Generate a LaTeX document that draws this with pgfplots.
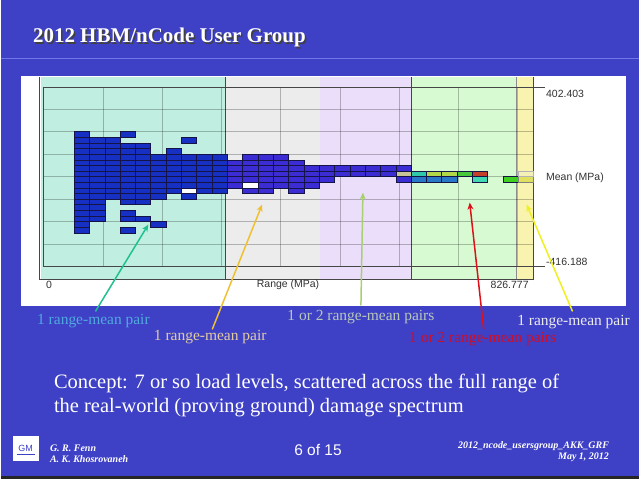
\documentclass[border=0pt]{standalone}
\usepackage{fontspec}
\setmainfont{Liberation Serif}
\newfontfamily\arial{Liberation Sans}
\usepackage{pgfplots}
\usepackage{pgfplotstable}
\pgfplotsset{compat=1.18}
\usetikzlibrary{arrows.meta}

\definecolor{slide}{RGB}{62,64,198}
\definecolor{titleline}{RGB}{112,118,232}
\definecolor{bteal}{RGB}{192,238,224}
\definecolor{bgray}{RGB}{236,236,236}
\definecolor{bpurp}{RGB}{234,222,250}
\definecolor{bgreen}{RGB}{216,250,210}
\definecolor{byell}{RGB}{248,244,176}
\definecolor{framec}{RGB}{70,70,70}
\definecolor{labc}{RGB}{50,50,50}
\definecolor{edge}{RGB}{20,20,70}
\definecolor{cb}{RGB}{22,48,196}
\definecolor{cv}{RGB}{60,44,212}
\definecolor{ct}{RGB}{200,196,150}
\definecolor{cq}{RGB}{48,200,168}
\definecolor{cs}{RGB}{40,120,200}
\definecolor{cy}{RGB}{176,216,72}
\definecolor{cg}{RGB}{72,200,56}
\definecolor{cr}{RGB}{196,64,40}
\definecolor{ca}{RGB}{64,216,176}
\definecolor{cl}{RGB}{64,208,32}
\definecolor{ck}{RGB}{224,224,96}
\definecolor{cp}{RGB}{244,240,184}
\definecolor{tteal}{RGB}{80,170,222}
\definecolor{ttan}{RGB}{226,204,160}
\definecolor{tgg}{RGB}{184,200,184}
\definecolor{tred}{RGB}{200,16,46}
\definecolor{ateal}{RGB}{32,192,144}
\definecolor{aorange}{RGB}{240,192,48}
\definecolor{agreen}{RGB}{168,208,112}
\definecolor{ared}{RGB}{224,16,26}
\definecolor{ayell}{RGB}{240,240,32}

\pgfdeclareplotmark{cell}{%
  \pgfpathrectangle{\pgfqpoint{-7.672pt}{-2.8125pt}}{\pgfqpoint{15.344pt}{5.625pt}}%
  \pgfusepathqfillstroke}

% range bin i (0..31), mean bin j (0..31), colour class c
\pgfplotstableread[row sep=\\]{
i j c\\
2 6 b\\2 7 b\\2 8 b\\2 9 b\\2 10 b\\2 11 b\\2 12 b\\2 13 b\\2 14 b\\2 15 b\\2 16 b\\2 17 b\\2 18 b\\2 19 b\\2 20 b\\2 21 b\\2 22 b\\2 23 b\\
3 8 b\\3 9 b\\3 10 b\\3 11 b\\3 12 b\\3 13 b\\3 14 b\\3 15 b\\3 16 b\\3 17 b\\3 18 b\\3 19 b\\3 20 b\\3 21 b\\3 22 b\\
4 12 b\\4 13 b\\4 14 b\\4 15 b\\4 16 b\\4 17 b\\4 18 b\\4 19 b\\4 20 b\\4 21 b\\4 22 b\\
5 6 b\\5 8 b\\5 9 b\\5 11 b\\5 12 b\\5 13 b\\5 14 b\\5 15 b\\5 16 b\\5 17 b\\5 18 b\\5 19 b\\5 20 b\\5 21 b\\5 23 b\\
6 8 b\\6 11 b\\6 12 b\\6 13 b\\6 14 b\\6 15 b\\6 16 b\\6 17 b\\6 18 b\\6 19 b\\6 20 b\\6 21 b\\
7 7 b\\7 12 b\\7 13 b\\7 14 b\\7 15 b\\7 16 b\\7 17 b\\7 18 b\\7 19 b\\
8 13 b\\8 14 b\\8 15 b\\8 16 b\\8 17 b\\8 18 b\\8 19 b\\8 20 b\\
9 12 b\\9 13 w\\9 14 b\\9 15 b\\9 16 b\\9 17 b\\9 18 b\\9 19 b\\9 22 b\\
10 13 b\\10 14 b\\10 15 b\\10 16 b\\10 17 b\\10 18 b\\10 19 b\\
11 13 b\\11 14 b\\11 15 b\\11 16 b\\11 17 b\\11 18 b\\11 19 b\\
12 14 v\\12 15 v\\12 16 v\\12 17 v\\12 18 v\\
13 13 v\\13 14 w\\13 15 v\\13 16 v\\13 17 v\\13 18 v\\13 19 v\\
14 13 v\\14 14 v\\14 15 v\\14 16 v\\14 17 v\\14 18 v\\14 19 v\\
15 14 v\\15 15 v\\15 16 v\\15 17 v\\15 18 v\\15 19 v\\
16 13 v\\16 14 v\\16 15 v\\16 16 v\\16 17 v\\16 18 v\\
17 14 v\\17 15 v\\17 16 v\\17 17 v\\
18 15 v\\18 16 v\\18 17 v\\
19 16 v\\19 17 v\\20 16 v\\20 17 v\\21 16 v\\21 17 v\\22 16 v\\22 17 v\\
23 15 v\\23 16 t\\23 17 v\\
24 15 s\\24 16 q\\
25 15 s\\25 16 y\\
26 15 s\\26 16 y\\
27 16 g\\
28 15 a\\28 16 r\\
30 15 l\\
31 15 k\\31 16 p\\
}\cells

\newcommand{\fs}[1]{\fontsize{#1}{#1}\selectfont}

\begin{document}
\begin{tikzpicture}[x=1pt,y=1pt]
% slide
\fill[slide] (0,0) rectangle (640,480);
\fill[black!85] (0,0) rectangle (640,3);
\draw[titleline, line width=1.2pt] (0,421) -- (640,421);
\node[anchor=base west, text=black!75, font=\bfseries\fs{21}] at (30.5,435.5) {2012 HBM/nCode User Group};
\node[anchor=base west, text=white, font=\bfseries\fs{21}] at (29,437) {2012 HBM/nCode User Group};
% panel
\fill[white] (20,173) rectangle (627,404);
\fill[bteal] (40,200) rectangle (225,403);
\fill[bgray] (225,200) rectangle (320,403);
\fill[bpurp] (320,200) rectangle (411,403);
\fill[bgreen] (411,200) rectangle (517,403);
\fill[byell] (517,200) rectangle (534,403);
\draw[framec, line width=0.6pt] (225,200) -- (225,403);
\draw[framec, line width=0.6pt] (411,200) -- (411,403);
\draw[black!45, line width=0.5pt] (517,200) -- (517,403);
\draw[framec, line width=0.6pt] (39,403) -- (39,200) -- (534,200) -- (534,403);
\draw[framec, line width=0.6pt] (534,393) -- (545,393);
\draw[framec, line width=0.6pt] (534,213) -- (545,213);

\begin{axis}[at={(43pt,213pt)}, anchor=south west,
  width=491pt, height=180pt, scale only axis,
  xmin=0, xmax=826.777, ymin=-416.188, ymax=402.403,
  xtick={0,100,...,800},
  ytick={-416.188,-313.864,-211.540,-109.216,-6.892,95.432,197.756,300.080,402.403},
  xticklabels={}, yticklabels={}, major tick length=0pt,
  grid=major, grid style={line width=0.5pt, draw=black, opacity=0.25},
  axis line style={draw=framec, line width=0.6pt},
  clip=false]
\addplot[scatter, only marks, point meta=explicit symbolic,
  mark options={line width=0.5pt},
  scatter/classes={
    b={mark=cell,draw=edge,fill=cb},
    v={mark=cell,draw=edge,fill=cv},
    w={mark=cell,draw=edge,fill=white},
    t={mark=cell,draw=edge,fill=ct},
    q={mark=cell,draw=edge,fill=cq},
    s={mark=cell,draw=edge,fill=cs},
    y={mark=cell,draw=edge,fill=cy},
    g={mark=cell,draw=edge,fill=cg},
    r={mark=cell,draw=edge,fill=cr},
    a={mark=cell,draw=edge,fill=ca},
    l={mark=cell,draw=edge,fill=cl},
    k={mark=cell,draw=black!50,fill=ck},
    p={mark=cell,draw=black!30,fill=cp}}]
  table[x expr={(\thisrow{i}+0.5)*25.8368}, y expr={-416.188+(\thisrow{j}+0.5)*25.5810}, meta=c] {\cells};
\end{axis}

% axis texts
\node[anchor=west, text=labc, font=\arial\fs{10.5}] at (543,386) {402.403};
\node[anchor=west, text=labc, font=\arial\fs{10.5}] at (543,302) {Mean (MPa)};
\node[anchor=west, text=labc, font=\arial\fs{10.5}] at (543,218) {-416.188};
\node[anchor=west, text=labc, font=\arial\fs{10.5}] at (42,195) {0};
\node[text=labc, font=\arial\fs{10.5}] at (288,195) {Range (MPa)};
\node[text=labc, font=\arial\fs{10.5}] at (510,195) {826.777};

% arrows
\begin{scope}[line width=1.5pt, -{Stealth[length=7pt,width=6pt]}]
\draw[ateal] (95,168) -- (148,255);
\draw[aorange] (212,150) -- (262,275);
\draw[agreen] (361,174) -- (363,287);
\draw[ared] (484,150) -- (470,277);
\draw[ayell] (573,168) -- (527,275);
\end{scope}

% annotations
\node[text=tteal, font=\fs{15.5}] at (93,158) {1 range-mean pair};
\node[text=ttan, font=\fs{15.5}] at (210,142) {1 range-mean pair};
\node[text=tgg, font=\fs{15.5}] at (361,162) {1 or 2 range-mean pairs};
\node[text=tred, font=\fs{15.5}] at (483,140) {1 or 2 range-mean pairs};
\node[text=white!92!black, font=\fs{15.5}] at (574,157) {1 range-mean pair};

% concept text
\node[anchor=base west, text=white, font=\fs{20.5}] at (50,91) {Concept: 7 or so load levels, scattered across the full range of};
\node[anchor=base west, text=white, font=\fs{20.5}] at (50,67) {the real-world (proving ground) damage spectrum};

% footer
\fill[white] (12,18) rectangle (38,43);
\node[text=slide, font=\arial\fs{9}] at (25,31) {GM};
\draw[slide, line width=0.5pt] (16,25) -- (34,25);
\node[anchor=base west, text=white, font=\bfseries\itshape\fs{10}] at (46,28) {G. R. Fenn};
\node[anchor=base west, text=white, font=\bfseries\itshape\fs{10}] at (46,17) {A. K. Khosrovaneh};
\node[text=white, font=\arial\fs{15.5}] at (318,29) {6 of 15};
\node[anchor=base east, text=white, font=\bfseries\itshape\fs{10}] at (613,31) {2012\_ncode\_usersgroup\_AKK\_GRF};
\node[anchor=base east, text=white, font=\bfseries\itshape\fs{10}] at (613,20) {May 1, 2012};
\end{tikzpicture}
\end{document}
